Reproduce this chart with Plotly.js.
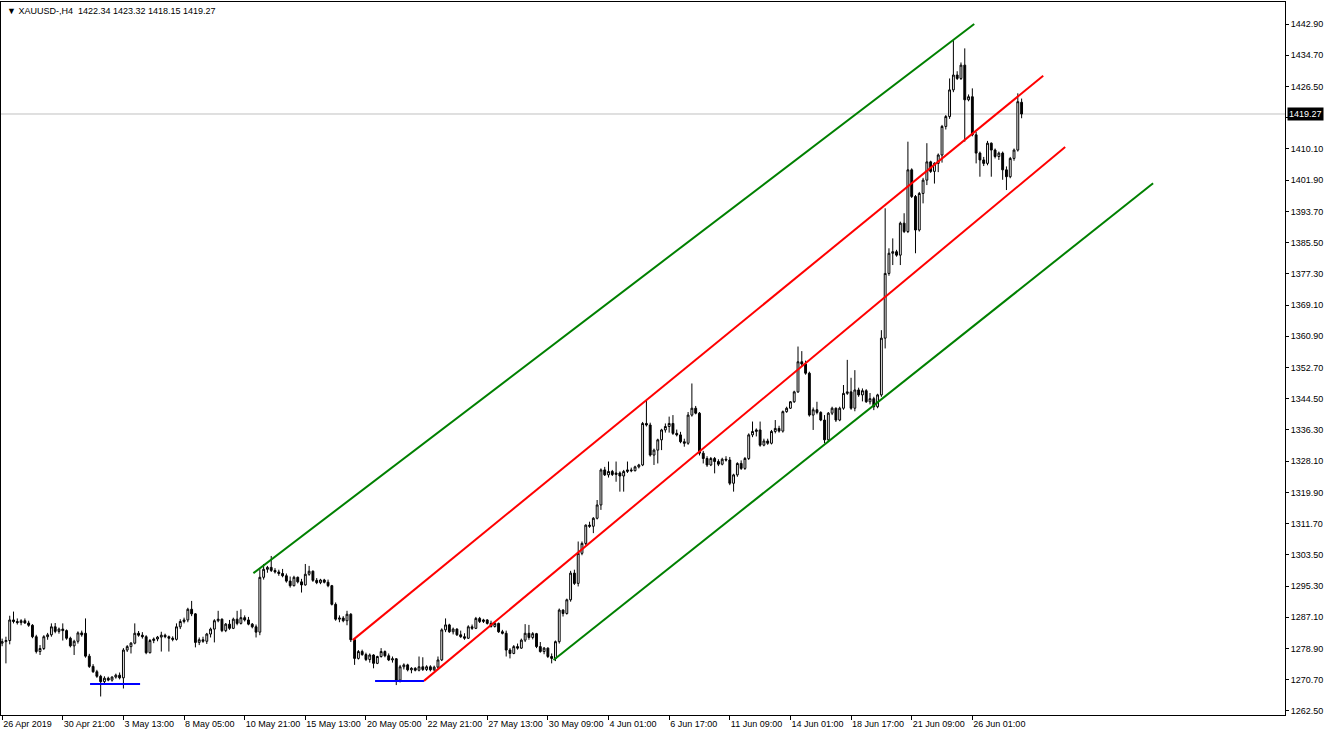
<!DOCTYPE html>
<html>
<head>
<meta charset="utf-8">
<script src="https://cdn.plot.ly/plotly-3.0.1.min.js"></script>
<style>
html,body{margin:0;padding:0;background:#fff;}
#chart{width:1332px;height:734px;}
</style>
</head>
<body>
<div id="chart"></div>
<script>
// ---- Data (XAUUSD H4, bar index 0 = 26 Apr 2019) ----
const barOpen = [
1280.3,1280.7,1281.0,1286.4,1286.0,1285.7,1286.2,1285.6,1285.0,1282.0,
1278.1,1278.9,1282.0,1282.5,1284.6,1283.4,1284.0,1283.6,1281.6,1279.6,
1280.8,1283.0,1282.9,1276.9,1274.2,1272.8,1271.6,1270.2,1271.1,1270.6,
1271.4,1271.9,1271.2,1278.5,1279.4,1280.3,1282.9,1282.4,1282.0,1277.8,
1281.0,1281.4,1281.9,1282.4,1282.0,1281.6,1281.3,1284.6,1286.0,1286.4,
1289.2,1288.0,1280.5,1281.2,1280.8,1282.7,1284.0,1286.2,1286.6,1283.6,
1285.3,1284.2,1286.6,1285.5,1287.0,1286.4,1285.3,1284.6,1283.2,1297.6,
1299.7,1300.2,1299.4,1299.0,1298.6,1298.0,1296.6,1295.4,1297.6,1296.4,
1295.6,1298.4,1299.2,1296.8,1296.2,1296.9,1296.3,1295.4,1290.5,1286.6,
1286.9,1286.2,1287.9,1281.2,1276.3,1278.1,1277.3,1276.0,1277.2,1275.0,
1276.8,1278.1,1277.0,1275.9,1276.2,1270.6,1274.1,1274.6,1273.3,1273.7,
1273.2,1274.1,1273.4,1274.1,1273.3,1274.0,1275.9,1283.8,1285.1,1283.3,
1284.0,1282.5,1282.0,1281.6,1284.6,1284.2,1286.8,1286.0,1286.4,1285.5,
1284.7,1285.5,1283.3,1282.9,1278.5,1277.6,1279.4,1279.0,1281.1,1282.9,
1281.8,1282.8,1279.4,1278.1,1279.0,1276.8,1276.3,1280.7,1289.0,1288.1,
1291.7,1298.7,1296.0,1303.9,1306.5,1311.3,1311.0,1313.1,1316.6,1325.8,
1324.5,1325.4,1324.6,1325.0,1324.2,1325.4,1325.8,1325.6,1326.6,1327.1,
1338.0,1337.6,1329.7,1331.0,1333.7,1336.3,1337.2,1338.0,1335.4,1335.0,
1333.2,1332.8,1340.2,1342.0,1340.7,1330.2,1328.8,1327.1,1328.8,1328.0,
1327.3,1328.6,1328.4,1322.3,1324.5,1327.5,1326.2,1328.8,1335.0,1335.9,
1336.3,1332.3,1333.4,1332.8,1335.9,1336.7,1336.0,1341.1,1342.0,1343.7,
1346.3,1354.2,1353.6,1351.2,1340.2,1341.6,1340.9,1338.9,1333.7,1340.7,
1342.0,1338.9,1342.0,1345.9,1346.3,1342.0,1346.8,1345.5,1346.6,1343.7,
1344.5,1342.4,1345.5,1360.4,1377.4,1382.7,1383.1,1382.2,1390.6,1388.4,
1404.6,1397.6,1388.8,1398.4,1401.9,1406.7,1404.2,1406.3,1408.5,1416.0,
1418.6,1425.6,1429.5,1428.6,1432.1,1423.0,1423.8,1413.8,1409.0,1407.2,
1406.3,1411.6,1409.8,1408.1,1409.0,1404.6,1402.8,1407.6,1409.8,1422.34
];
const barHigh = [
1281.5,1282.0,1287.5,1288.6,1286.8,1286.6,1286.8,1286.2,1285.3,1282.5,
1279.8,1282.4,1283.0,1285.5,1285.6,1284.4,1285.5,1283.9,1282.0,1281.2,
1283.4,1283.6,1286.8,1277.5,1274.8,1273.3,1272.0,1271.6,1271.5,1271.6,
1272.3,1272.6,1279.0,1279.8,1280.6,1285.5,1283.5,1283.2,1282.4,1281.4,
1281.8,1282.2,1283.3,1282.8,1282.3,1282.1,1285.5,1286.6,1287.0,1289.6,
1291.4,1288.2,1281.8,1282.0,1283.0,1284.4,1286.6,1288.8,1286.8,1285.6,
1286.4,1287.0,1288.8,1289.2,1287.6,1287.2,1285.6,1285.2,1299.7,1301.1,
1300.6,1303.2,1300.0,1299.6,1299.8,1298.6,1297.8,1298.0,1297.8,1297.2,
1301.1,1300.6,1299.4,1297.4,1297.2,1297.2,1297.0,1295.6,1291.0,1287.6,
1287.4,1288.8,1288.2,1281.6,1278.5,1278.6,1277.8,1277.6,1277.4,1277.0,
1279.0,1278.4,1277.6,1276.8,1276.4,1274.6,1275.0,1274.9,1274.0,1274.0,
1276.8,1276.6,1274.5,1274.5,1274.4,1276.8,1284.2,1286.8,1285.4,1284.4,
1284.2,1283.6,1282.9,1285.0,1285.2,1287.2,1287.2,1286.7,1286.6,1286.2,
1285.8,1285.7,1283.8,1283.6,1279.0,1279.8,1280.2,1281.5,1285.3,1285.1,
1283.2,1283.0,1280.6,1279.3,1279.2,1277.6,1281.0,1289.4,1289.2,1292.0,
1299.3,1299.6,1307.0,1307.0,1311.5,1312.2,1313.4,1317.9,1326.2,1326.6,
1328.0,1325.8,1328.0,1325.4,1325.8,1328.0,1326.4,1326.9,1327.4,1338.4,
1344.2,1338.2,1331.4,1334.0,1336.6,1338.0,1339.8,1340.2,1336.4,1335.8,
1334.0,1341.0,1348.5,1342.6,1341.0,1330.8,1329.4,1329.2,1329.2,1328.6,
1329.0,1329.4,1329.2,1324.8,1327.8,1328.3,1329.2,1335.4,1338.5,1336.7,
1338.5,1334.0,1334.0,1336.3,1338.9,1337.4,1341.4,1342.4,1343.9,1346.6,
1358.2,1357.0,1354.5,1351.6,1342.2,1343.7,1341.2,1340.2,1341.0,1342.4,
1342.2,1342.4,1348.1,1354.7,1350.0,1352.0,1347.4,1347.2,1347.0,1346.0,
1345.0,1345.8,1362.5,1394.5,1384.0,1386.6,1383.6,1391.0,1393.2,1412.0,
1405.0,1398.0,1398.8,1402.5,1411.6,1407.0,1406.6,1408.9,1416.4,1419.0,
1428.6,1438.7,1430.5,1432.8,1436.5,1424.4,1426.0,1414.6,1409.4,1408.0,
1412.2,1411.8,1410.2,1409.4,1409.4,1405.5,1408.0,1410.2,1424.7,1423.32
];
const barLow = [
1279.5,1275.0,1280.0,1285.5,1285.2,1285.0,1285.4,1284.6,1281.6,1277.6,
1277.2,1278.5,1281.2,1282.0,1282.9,1282.8,1281.0,1281.2,1279.2,1277.2,
1280.2,1282.0,1276.5,1273.8,1272.5,1271.2,1266.3,1269.8,1270.3,1270.2,
1271.0,1270.8,1268.4,1278.0,1277.6,1280.0,1282.0,1281.5,1277.4,1277.6,
1280.3,1280.8,1278.1,1281.6,1278.1,1280.8,1281.0,1284.0,1285.5,1285.8,
1287.4,1279.2,1279.8,1280.4,1280.1,1281.8,1280.5,1285.8,1283.2,1283.2,
1283.8,1284.0,1285.0,1285.2,1286.0,1285.0,1284.2,1281.8,1282.4,1297.0,
1298.8,1299.0,1298.6,1298.0,1297.6,1296.2,1294.9,1295.2,1296.0,1293.6,
1295.4,1298.0,1296.4,1295.8,1295.8,1296.0,1295.0,1290.2,1286.2,1285.8,
1285.8,1285.0,1280.6,1274.6,1276.0,1277.0,1275.6,1275.2,1273.7,1274.8,
1276.5,1276.6,1275.6,1275.2,1269.3,1270.0,1273.4,1272.9,1272.4,1272.9,
1272.9,1273.0,1273.0,1272.9,1273.0,1273.6,1275.6,1283.2,1283.0,1282.6,
1282.2,1281.7,1281.2,1281.4,1283.8,1284.0,1285.6,1285.6,1285.2,1284.4,
1284.4,1283.0,1282.6,1276.8,1276.3,1277.4,1278.6,1278.8,1280.6,1281.2,
1281.3,1279.0,1277.8,1277.4,1276.4,1275.0,1275.6,1280.2,1287.3,1287.8,
1291.2,1295.6,1295.2,1303.4,1306.0,1310.6,1309.2,1312.8,1315.3,1324.2,
1323.8,1324.2,1322.7,1320.1,1320.1,1325.0,1325.2,1325.4,1326.2,1326.8,
1337.2,1329.3,1327.1,1327.5,1331.0,1335.6,1335.6,1335.0,1334.6,1332.8,
1331.9,1332.4,1339.8,1340.4,1329.6,1327.5,1326.6,1326.8,1324.9,1326.8,
1327.0,1328.0,1321.8,1320.1,1324.0,1325.8,1325.8,1328.4,1334.4,1334.6,
1331.9,1332.0,1332.4,1332.5,1335.4,1335.6,1335.6,1340.8,1341.8,1343.4,
1346.0,1353.0,1350.8,1339.8,1336.3,1340.4,1338.6,1332.8,1333.2,1340.2,
1338.4,1338.6,1341.6,1345.5,1341.6,1341.2,1345.0,1343.8,1343.4,1343.0,
1341.5,1342.0,1345.0,1357.7,1376.8,1379.6,1381.8,1379.6,1388.0,1388.0,
1397.2,1382.7,1388.4,1395.8,1400.6,1403.8,1401.0,1404.0,1406.5,1415.2,
1418.0,1425.0,1428.2,1428.2,1412.0,1422.6,1413.4,1406.3,1402.8,1405.6,
1405.8,1402.8,1407.6,1407.2,1402.0,1399.3,1402.4,1407.0,1409.4,1418.15
];
const barClose = [
1280.7,1281.0,1286.4,1286.0,1285.7,1286.2,1285.6,1285.0,1282.0,1278.1,
1278.9,1282.0,1282.5,1284.6,1283.4,1284.0,1283.6,1281.6,1279.6,1280.8,
1283.0,1282.5,1276.9,1274.2,1272.8,1271.6,1270.2,1271.1,1270.6,1271.4,
1271.9,1271.2,1278.5,1279.4,1280.3,1282.9,1282.4,1282.0,1277.8,1281.0,
1281.4,1281.9,1282.4,1282.0,1281.6,1281.3,1284.6,1286.0,1286.4,1289.2,
1288.0,1280.5,1281.2,1280.8,1282.7,1284.0,1286.2,1286.6,1283.6,1285.3,
1284.2,1286.6,1285.5,1287.0,1286.4,1285.3,1284.6,1283.2,1297.6,1299.7,
1300.2,1299.4,1299.0,1298.6,1298.0,1296.6,1295.4,1297.6,1296.4,1295.6,
1298.4,1299.2,1296.8,1296.2,1296.9,1296.3,1295.4,1290.5,1286.6,1286.9,
1286.2,1287.9,1281.2,1276.3,1278.1,1277.3,1276.0,1277.2,1275.0,1276.8,
1278.1,1277.0,1275.9,1276.2,1270.6,1274.1,1274.6,1273.3,1273.7,1273.2,
1274.1,1273.4,1274.1,1273.3,1274.0,1275.9,1283.8,1285.1,1283.3,1284.0,
1282.5,1282.0,1281.6,1284.6,1284.2,1286.8,1286.0,1286.4,1285.5,1284.7,
1285.5,1283.3,1282.9,1278.5,1277.6,1279.4,1279.0,1281.1,1282.9,1281.8,
1282.8,1279.4,1278.1,1279.0,1276.8,1276.3,1280.7,1289.0,1288.1,1291.7,
1298.7,1296.0,1303.9,1306.5,1311.3,1311.0,1313.1,1316.6,1325.8,1324.5,
1325.4,1324.6,1325.0,1324.2,1325.4,1325.8,1325.6,1326.6,1327.1,1338.0,
1337.6,1329.7,1331.0,1333.7,1336.3,1337.2,1338.0,1335.4,1335.0,1333.2,
1332.8,1340.2,1342.0,1340.7,1330.2,1328.8,1327.1,1328.8,1328.0,1327.3,
1328.6,1328.4,1322.3,1324.5,1327.5,1326.2,1328.8,1335.0,1335.9,1336.3,
1332.3,1333.4,1332.8,1335.9,1336.7,1336.0,1341.1,1342.0,1343.7,1346.3,
1354.2,1353.6,1351.2,1340.2,1341.6,1340.9,1338.9,1333.7,1340.7,1342.0,
1338.9,1342.0,1345.9,1346.3,1342.0,1346.8,1345.5,1346.6,1343.7,1344.5,
1342.4,1345.5,1360.4,1377.4,1382.7,1383.1,1382.2,1390.6,1388.4,1404.6,
1397.6,1388.8,1398.4,1401.9,1406.7,1404.2,1406.3,1408.5,1416.0,1418.6,
1425.6,1429.5,1428.6,1432.1,1423.0,1423.8,1413.8,1409.0,1407.2,1406.3,
1411.6,1409.8,1408.1,1409.0,1404.6,1402.8,1407.6,1409.8,1422.5,1419.27
];

// time-axis labels (every 16 bars)
const tickBars = [0,16,32,48,64,80,96,112,128,144,160,176,192,208,224,240,256];
const tickLabels = ["26 Apr 2019","30 Apr 21:00","3 May 13:00","8 May 05:00","10 May 21:00",
  "15 May 13:00","20 May 05:00","22 May 21:00","27 May 13:00","30 May 09:00","4 Jun 01:00",
  "6 Jun 17:00","11 Jun 09:00","14 Jun 01:00","18 Jun 17:00","21 Jun 09:00","26 Jun 01:00"];
const priceTicks = [1442.9,1434.7,1426.5,1418.3,1410.1,1401.9,1393.7,1385.5,1377.3,1369.1,1360.9,
  1352.7,1344.5,1336.3,1328.1,1319.9,1311.7,1303.5,1295.3,1287.1,1278.9,1270.7,1262.5];

// drawn channel lines (bar index, price)
const greenUpperX = [66.3, 256.5],  greenUpperY = [1298.7, 1442.9];
const redUpperX   = [92.5, 274.7],  redUpperY   = [1281.1, 1429.3];
const redLowerX   = [111.3, 280.5], redLowerY   = [1270.4, 1410.6];
const greenLowerX = [145.5, 303.7], greenLowerY = [1275.9, 1401.1];
const blue1X = [23.2, 36.4], blue1Y = [1269.6, 1269.6];
const blue2X = [98.4, 111.3], blue2Y = [1270.4, 1270.4];
const lastPrice = 1419.27;
const header = "\u25BC XAUUSD-,H4  1422.34 1423.32 1418.15 1419.27";

const barIndex = barClose.map((_, i) => i);
// the tick hidden behind the last-price box keeps its mark but no text
const priceTickText = priceTicks.map(v => Math.abs(v - lastPrice) < 3 ? '' : v.toFixed(2));
const FONT = "Liberation Sans, Arial, sans-serif";

const traces = [
  {type:'scatter', mode:'lines', x:greenUpperX, y:greenUpperY, line:{color:'#008000', width:2}, hoverinfo:'skip'},
  {type:'scatter', mode:'lines', x:greenLowerX, y:greenLowerY, line:{color:'#008000', width:2}, hoverinfo:'skip'},
  {type:'scatter', mode:'lines', x:redUpperX, y:redUpperY, line:{color:'#ff0000', width:2}, hoverinfo:'skip'},
  {type:'scatter', mode:'lines', x:redLowerX, y:redLowerY, line:{color:'#ff0000', width:2}, hoverinfo:'skip'},
  {type:'scatter', mode:'lines', x:blue1X, y:blue1Y, line:{color:'#0000ff', width:2}, hoverinfo:'skip'},
  {type:'scatter', mode:'lines', x:blue2X, y:blue2Y, line:{color:'#0000ff', width:2}, hoverinfo:'skip'},
  {
    type:'candlestick', x:barIndex, open:barOpen, high:barHigh, low:barLow, close:barClose,
    increasing:{line:{color:'#000000', width:1}, fillcolor:'#ffffff'},
    decreasing:{line:{color:'#000000', width:1}, fillcolor:'#000000'},
    whiskerwidth:0, hoverinfo:'skip'
  }
];

const layout = {
  width:1332, height:734,
  margin:{l:1, r:47, t:2, b:19},
  paper_bgcolor:'#ffffff', plot_bgcolor:'#ffffff',
  showlegend:false,
  hovermode:false,
  font:{family:FONT, size:9, color:'#000'},
  xaxis:{
    type:'linear', range:[-0.3, 338.5], rangeslider:{visible:false},
    showgrid:false, zeroline:false,
    showline:true, mirror:true, linecolor:'#000', linewidth:1,
    tickmode:'array', tickvals:tickBars, ticktext:tickLabels,
    ticks:'outside', ticklen:4, tickcolor:'#000',
    tickangle:0, ticklabelposition:'outside right', automargin:false,
    tickfont:{family:FONT, size:9, color:'#000'}
  },
  yaxis:{
    side:'right', range:[1261.44, 1448.68],
    showgrid:false, zeroline:false,
    showline:true, mirror:true, linecolor:'#000', linewidth:1,
    tickmode:'array', tickvals:priceTicks, ticktext:priceTickText,
    ticks:'outside', ticklen:3, tickcolor:'#000', automargin:false,
    tickfont:{family:FONT, size:9, color:'#000'}
  },
  shapes:[
    {type:'line', xref:'paper', x0:0, x1:1, yref:'y', y0:lastPrice, y1:lastPrice,
     line:{color:'#c0c0c0', width:1}, layer:'below'}
  ],
  annotations:[
    {xref:'paper', yref:'paper', x:0, y:1, xanchor:'left', yanchor:'top', xshift:4, yshift:-2,
     text:header, showarrow:false, font:{family:FONT, size:9, color:'#000'}},
    {xref:'paper', yref:'y', x:1, y:lastPrice, xanchor:'left', yanchor:'middle', xshift:2,
     text:lastPrice.toFixed(2), showarrow:false, bgcolor:'#000000', borderpad:1,
     font:{family:FONT, size:9, color:'#ffffff'}}
  ]
};

Plotly.newPlot('chart', traces, layout, {displayModeBar:false, staticPlot:true});
</script>
</body>
</html>
